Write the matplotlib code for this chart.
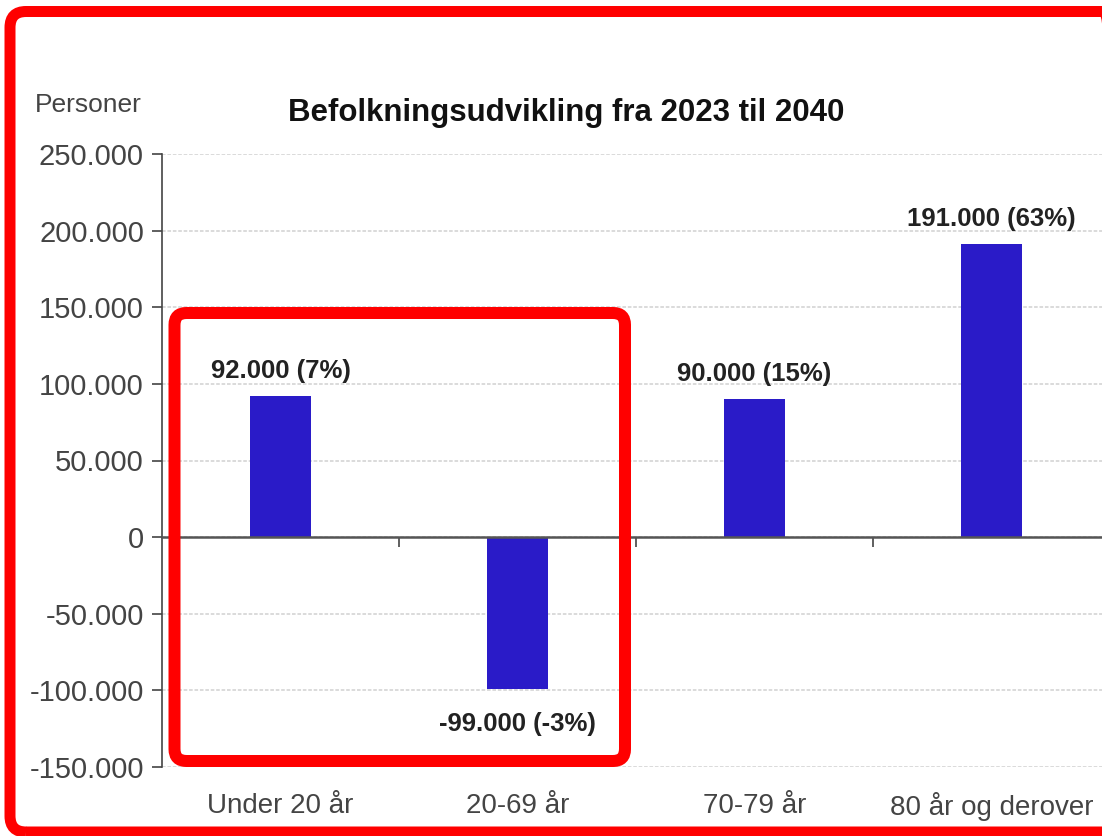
import matplotlib.pyplot as plt
from matplotlib.patches import FancyBboxPatch
from matplotlib.transforms import IdentityTransform
from matplotlib.ticker import FuncFormatter

# data
categories = ['Under 20 år', '20-69 år', '70-79 år', '80 år og derover']
values = [92000, -99000, 90000, 191000]
pct = [7, -3, 15, 63]
yticks = [-150000, -100000, -50000, 0, 50000, 100000, 150000, 200000, 250000]

bar_color = '#2a1bc8'
text_color = '#444444'

plt.rcParams['font.family'] = ['Liberation Sans', 'DejaVu Sans']

W, H = 1102, 836
fig = plt.figure(figsize=(W / 100, H / 100), dpi=100)
fig.patch.set_facecolor('white')

# axes placed in pixel terms, right side runs off the canvas like the source
left, right, top, bottom = 162, 1110, 154, 767
ax = fig.add_axes([left / W, 1 - bottom / H, (right - left) / W, (bottom - top) / H])

x = list(range(len(categories)))
ax.bar(x, values, width=0.26, color=bar_color, zorder=3)

ax.set_xlim(-0.5, len(categories) - 0.5)
ax.set_ylim(yticks[0], yticks[-1])
ax.set_yticks(yticks)
ax.yaxis.set_major_formatter(FuncFormatter(lambda v, p: f'{int(v):,}'.replace(',', '.')))
ax.tick_params(axis='y', labelsize=21, labelcolor=text_color, length=7, width=1.2,
               color='#444444', pad=6)

ax.yaxis.grid(True, linestyle=(0, (2, 1)), color='#d8d8d8', linewidth=1.3, zorder=0)
ax.set_axisbelow(True)

for s in ['top', 'right']:
    ax.spines[s].set_visible(False)
ax.spines['left'].set_color('#444444')
ax.spines['left'].set_linewidth(1.2)
ax.spines['bottom'].set_position(('data', 0))
ax.spines['bottom'].set_color('#555555')
ax.spines['bottom'].set_linewidth(1.8)
ax.spines['bottom'].set_zorder(4)

# separators between categories on the zero line
ax.set_xticks([0.5, 1.5, 2.5])
ax.set_xticklabels([])
ax.tick_params(axis='x', length=7, width=1.2, color='#444444', direction='out')

for xi, c in zip(x, categories):
    ax.text(xi, -0.064, c, transform=ax.get_xaxis_transform(), ha='center', va='center',
            fontsize=20, color=text_color)

for xi, v, p in zip(x, values, pct):
    lab = f'{v:,}'.replace(',', '.') + f' ({p}%)'
    off = 13 if v > 0 else -30
    ax.annotate(lab, (xi, v), xytext=(0, off), textcoords='offset points',
                ha='center', va='baseline', fontsize=18.5, fontweight='bold', color='#222222')

fig.text(566 / W, 1 - 113 / H, 'Befolkningsudvikling fra 2023 til 2040', ha='center', va='center',
         fontsize=22.5, fontweight='bold', color='#111111')
fig.text(35 / W, 1 - 105 / H, 'Personer', ha='left', va='center', fontsize=19, color=text_color)

# red highlight frames (pixel coords, origin bottom left)
outer = FancyBboxPatch((10, 4), 1110, 820.5, boxstyle='round,pad=0,rounding_size=16',
                       transform=IdentityTransform(), fill=False, edgecolor='#ff0000',
                       linewidth=11 * 0.72, zorder=10)
inner = FancyBboxPatch((174.5, H - 761), 625 - 174.5, 761 - 313,
                       boxstyle='round,pad=0,rounding_size=12',
                       transform=IdentityTransform(), fill=False, edgecolor='#ff0000',
                       linewidth=12 * 0.72, zorder=10)
fig.patches.extend([outer, inner])

fig.savefig('out.png', dpi=100)
